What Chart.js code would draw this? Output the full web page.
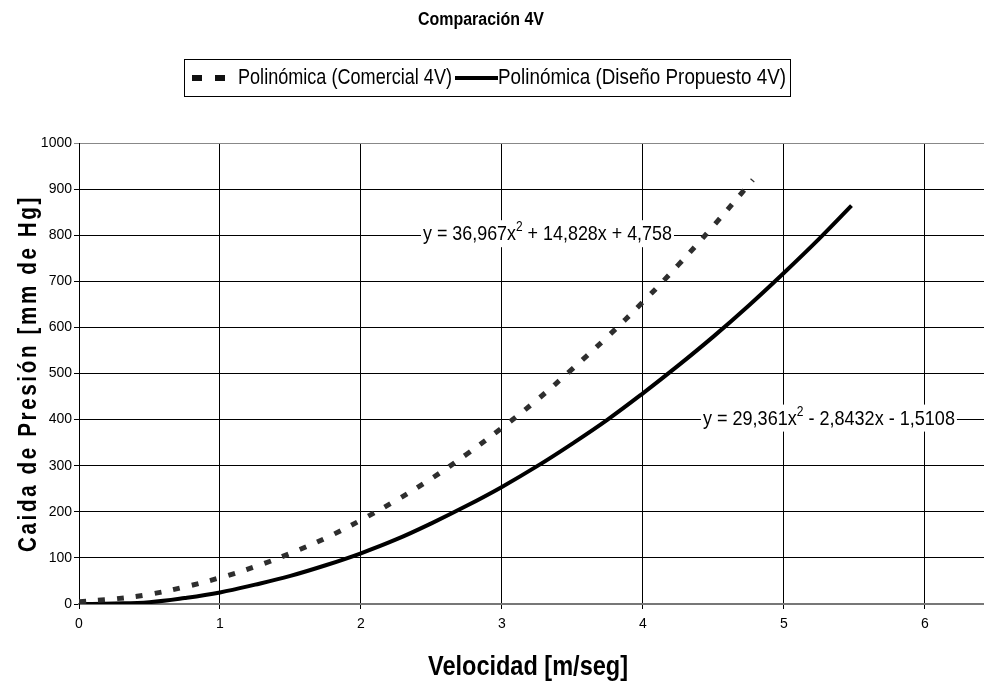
<!DOCTYPE html>
<html><head><meta charset="utf-8">
<script src="https://cdn.jsdelivr.net/npm/chart.js@4.4.1/dist/chart.umd.min.js"></script>
<style>html,body{margin:0;padding:0;background:#fff}#wrap{width:984px;height:682px}</style>
</head><body><div id="wrap"><canvas id="c" width="984" height="682"></canvas></div>
<script>
const chartTitle = "Comparación 4V";
const seriesNames = ["Polinómica (Comercial 4V)", "Polinómica (Diseño Propuesto 4V)"];
const xTitle = "Velocidad [m/seg]";
const yTitle = "Caida de Presión [mm de Hg]";
const xMin = 0, xMax = 6.42, xStep = 1;
const yMin = 0, yMax = 1000, yStep = 100;

const comercialX = [0, 0.25, 0.5, 0.75, 1, 1.25, 1.5, 1.75, 2, 2.25, 2.5, 2.75, 3, 3.25, 3.5, 3.75, 4, 4.25, 4.5, 4.78];
const comercialY = [5, 11, 21, 37, 57, 81, 110, 143, 182, 225, 272, 325, 382, 443, 510, 580, 655, 735, 820, 920];
const propuestoX = [0, 0.25, 0.5, 0.75, 1, 1.25, 1.5, 1.75, 2, 2.25, 2.5, 2.75, 3, 3.25, 3.5, 3.75, 4, 4.25, 4.5, 4.75, 5, 5.25, 5.48];
const propuestoY = [0, 1, 4, 13, 25, 42, 61, 84, 110, 140, 175, 213, 254, 299, 348, 400, 457, 517, 580, 647, 718, 792, 864];

const eqLabels = [
  {x: 2.44, y: 800, w: 249, pre: "y = 36,967x", sup: "2", post: " + 14,828x + 4,758"},
  {x: 4.426, y: 400, w: 252, pre: "y = 29,361x", sup: "2", post: " - 2,8432x - 1,5108"}
];

const toPts = (xs, ys) => xs.map((x, i) => ({x: x, y: ys[i]}));
const FONT = "'Liberation Sans', Arial, sans-serif";

// draws text horizontally condensed to a given width
function fitText(ctx, text, x, y, font, targetW, align) {
  ctx.font = font;
  const w = ctx.measureText(text).width;
  const s = targetW / w;
  ctx.save();
  ctx.translate(x, y);
  ctx.scale(s, 1);
  ctx.textAlign = 'left';
  ctx.fillText(text, align === 'center' ? -w / 2 : 0, 0);
  ctx.restore();
}

const overlay = {
  id: 'overlay',
  afterDatasetsDraw(chart) {
    const ctx = chart.ctx, xs = chart.scales.x, ys = chart.scales.y;
    ctx.save();
    eqLabels.forEach(l => {
      const px = xs.getPixelForValue(l.x), py = ys.getPixelForValue(l.y);
      const big = "21px " + FONT, small = "14px " + FONT;
      ctx.font = big;
      const w1 = ctx.measureText(l.pre).width;
      const w3 = ctx.measureText(l.post).width;
      ctx.font = small;
      const w2 = ctx.measureText(l.sup).width;
      const s = l.w / (w1 + w2 + w3);
      ctx.fillStyle = "#fff";
      ctx.fillRect(px - 2, py - 15, l.w + 4, 27);
      ctx.fillStyle = "#000";
      ctx.textBaseline = "alphabetic";
      ctx.textAlign = "left";
      ctx.translate(px, py + 5);
      ctx.scale(s, 1);
      ctx.font = big;
      ctx.fillText(l.pre, 0, 0);
      ctx.font = small;
      ctx.fillText(l.sup, w1, -9);
      ctx.font = big;
      ctx.fillText(l.post, w1 + w2, 0);
      ctx.setTransform(1, 0, 0, 1, 0, 0);
    });
    ctx.restore();
  },
  afterDraw(chart) {
    const ctx = chart.ctx;
    ctx.save();
    ctx.fillStyle = "#000";
    ctx.textBaseline = "alphabetic";
    fitText(ctx, chartTitle, 481, 25, "bold 18px " + FONT, 126, 'center');
    // legend
    ctx.strokeStyle = "#000";
    ctx.lineWidth = 1;
    ctx.strokeRect(184.5, 59.5, 606, 37);
    const ly = 78;
    ctx.strokeStyle = "#111";
    ctx.lineWidth = 6;
    ctx.setLineDash([10, 13]);
    ctx.beginPath(); ctx.moveTo(192, ly); ctx.lineTo(235, ly); ctx.stroke();
    ctx.setLineDash([]);
    ctx.strokeStyle = "#000";
    ctx.lineWidth = 4;
    ctx.beginPath(); ctx.moveTo(455, ly); ctx.lineTo(498, ly); ctx.stroke();
    ctx.fillStyle = "#000";
    fitText(ctx, seriesNames[0], 238, 84, "22px " + FONT, 214, 'left');
    fitText(ctx, seriesNames[1], 498, 84, "22px " + FONT, 288, 'left');
    // axis titles
    fitText(ctx, xTitle, 528, 675, "bold 27px " + FONT, 200, 'center');
    ctx.save();
    ctx.translate(36, 373.5);
    ctx.rotate(-Math.PI / 2);
    const yFont = "bold 26px " + FONT;
    ctx.font = yFont;
    const natural = ctx.measureText(yTitle).width;
    const sc = 0.8;
    const spacing = (357 / sc - natural) / (yTitle.length - 1);
    try { ctx.letterSpacing = spacing.toFixed(2) + "px"; } catch (e) {}
    const wSp = ctx.measureText(yTitle).width;
    ctx.scale(357 / wSp, 1);
    ctx.textAlign = 'left';
    ctx.fillText(yTitle, -wSp / 2, 0);
    ctx.restore();
    ctx.restore();
  }
};

new Chart(document.getElementById('c'), {
  type: 'line',
  data: {
    datasets: [
      {label: seriesNames[0], data: toPts(comercialX, comercialY), borderColor: '#2e2e2e', borderWidth: 5,
       borderDash: [7, 12], borderCapStyle: 'butt', pointRadius: 0, fill: false, tension: 0.4},
      {label: seriesNames[1], data: toPts(propuestoX, propuestoY), borderColor: '#000', borderWidth: 4,
       pointRadius: 0, fill: false, tension: 0.4}
    ]
  },
  options: {
    responsive: false, animation: false, devicePixelRatio: 1,
    layout: {padding: {top: 143, left: 0, right: 0, bottom: 0}},
    plugins: {legend: {display: false}, title: {display: false}, tooltip: {enabled: false}},
    scales: {
      x: {
        type: 'linear', min: xMin, max: xMax,
        afterFit(s) { s.height = 78; },
        afterBuildTicks(s) { s.ticks = []; for (let v = xMin; v <= xMax; v += xStep) s.ticks.push({value: v}); },
        ticks: {color: '#000', font: {family: FONT, size: 14}, padding: 7, maxRotation: 0, callback: v => String(v)},
        grid: {color: '#000', lineWidth: 1, tickLength: 5, drawOnChartArea: true},
        border: {color: '#777', width: 2}
      },
      y: {
        min: yMin, max: yMax,
        afterFit(s) { s.width = 79; },
        ticks: {stepSize: yStep, color: '#000', font: {family: FONT, size: 14}, padding: 2, callback: v => String(v)},
        grid: {color: c => (c.tick && c.tick.value === yMax) ? '#888' : '#000', lineWidth: 1, tickLength: 5},
        border: {color: '#000', width: 1}
      }
    }
  },
  plugins: [overlay]
});
</script></body></html>
